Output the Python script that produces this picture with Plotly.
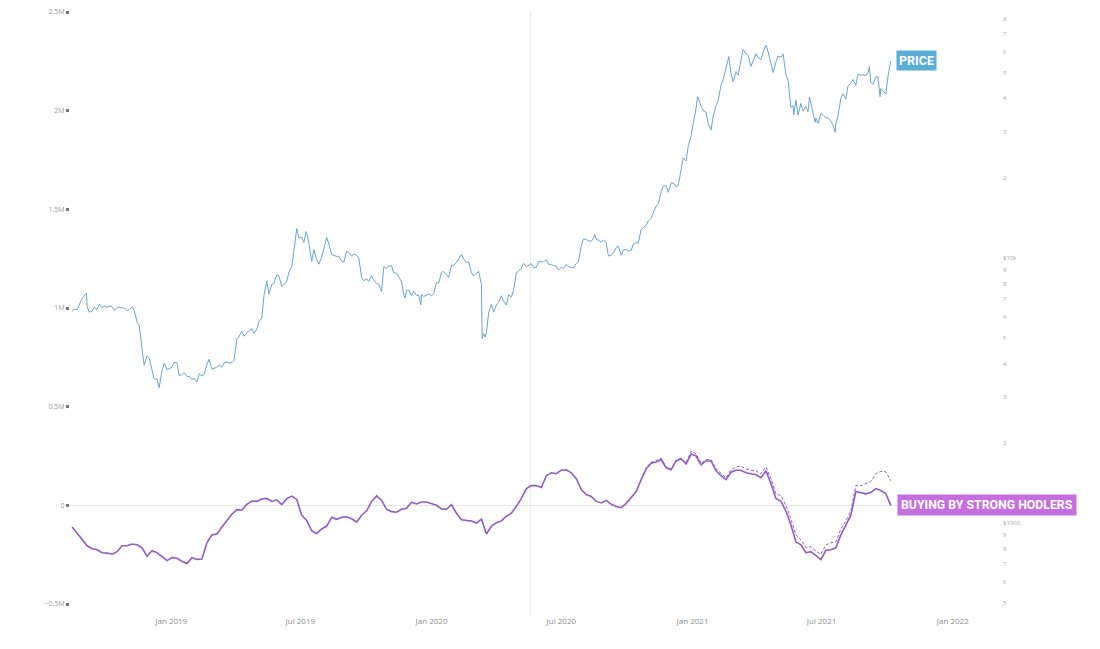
import numpy as np
import pandas as pd
import plotly.graph_objects as go

# ---------------- data ----------------
# Wednesday samples, starting 2018-08-15
week_start = "2018-08-15"
price_weekly = [
    6300, 6380, 7050, 6550, 6300, 6400, 6480, 6500, 6560, 6480,
    6480, 6320, 6530, 5740, 4550, 4270, 3780, 3490, 3750, 3800,
    3880, 4020, 3630, 3570, 3470, 3400, 3590, 3950, 3810, 3870,
    3870, 4050, 4030, 4950, 5300, 5240, 5400, 5400, 5950, 8200,
    7950, 8650, 7800, 8150, 9270, 12900, 11950, 12400, 9700, 9830,
    10080, 11950, 10300, 10130, 9720, 10600, 10150, 10240, 8430, 8340,
    8590, 8000, 7470, 9150, 9340, 8760, 8120, 7530, 7200, 7220,
    7290, 7250, 7200, 8080, 8820, 8660, 9380, 9610, 10330, 9600,
    8780, 8760, 7940, 5230, 6700, 6640, 7200, 6640, 7130, 8800,
    9160, 9270, 9520, 9200, 9670, 9870, 9450, 9310, 9230, 9430,
    9200, 9540, 11100, 11750, 11570, 11760, 11470, 11400, 10240, 10950,
    10240, 10780, 10670, 11430, 12820, 13270, 14130, 15700, 17800, 18730,
    19200, 18560, 21300, 23240, 28950, 36800, 37300, 35500, 30400, 37600,
    44900, 52100, 49700, 50500, 55900, 58900, 52800, 58900, 56000, 63500,
    53800, 54900, 57200, 49200, 37000, 39300, 38300, 37300, 38300, 33700,
    35000, 33800, 32800, 32100, 40000, 39700, 45600, 44800, 48900, 48800,
    46100, 48100, 43600, 41500, 55300,
]

# Saturday samples, starting 2018-08-18
weekend_start = "2018-08-18"
price_weekend = [
    6400, 6700, 7200, 6250, 6520, 6700, 6600, 6580, 6330, 6530,
    6480, 6380, 6350, 5570, 3940, 4200, 3500, 3240, 4000, 3820,
    4040, 3600, 3700, 3580, 3520, 3660, 3640, 4150, 3830, 3950,
    4020, 4010, 4110, 5050, 5070, 5320, 5200, 5750, 7200, 7300,
    8050, 8550, 7950, 8850, 10700, 11900, 11450, 11350, 10750, 9480,
    10800, 11280, 10230, 10150, 9630, 10470, 10360, 9990, 8200, 8150,
    8270, 7950, 9250, 9310, 8800, 8500, 7300, 7570, 7500, 7250,
    7150, 7320, 7350, 8030, 8900, 8440, 9390, 9900, 9900, 9690,
    8550, 8900, 5200, 6200, 6250, 6780, 6880, 7250, 7550, 8900,
    9550, 9380, 9180, 9700, 9670, 9470, 9360, 9010, 9130, 9280,
    9170, 9700, 11800, 11600, 11850, 11680, 11700, 10170, 10440, 11080,
    10730, 10620, 11300, 11360, 13030, 13800, 14820, 15970, 18680, 17700,
    19150, 18800, 23850, 26500, 32000, 40250, 36000, 32100, 34300, 39300,
    47100, 55900, 46200, 48900, 61200, 58100, 55800, 57100, 59800, 60000,
    50100, 57800, 58800, 46800, 37500, 34600, 35800, 35600, 35500, 32200,
    34700, 33800, 31800, 34300, 41600, 44600, 47100, 49300, 49100, 50000,
    45200, 48300, 42700, 48200,
]

# additional daily extremes visible on the chart
price_extra_dates = [
    "2018-09-04", "2019-07-09", "2019-11-25", "2019-12-17", "2020-03-12",
    "2020-03-16", "2020-08-17", "2021-01-08", "2021-02-21", "2021-05-23",
    "2021-06-14", "2021-06-22", "2021-07-20", "2021-09-06", "2021-09-21",
]
price_extra_values = [
    7370, 12570, 7050, 6640, 4970,
    5030, 12250, 40600, 57500, 34700,
    40500, 32500, 29800, 52700, 40600,
]

# buying by strong hodlers (million BTC), weekly from 2018-08-15
hodlers_m = [
    -0.11, -0.14, -0.17, -0.205, -0.22, -0.225, -0.24, -0.242, -0.248, -0.235,
    -0.205, -0.205, -0.196, -0.2, -0.215, -0.258, -0.23, -0.24, -0.26, -0.28,
    -0.265, -0.268, -0.283, -0.295, -0.265, -0.274, -0.272, -0.19, -0.15, -0.145,
    -0.11, -0.075, -0.045, -0.022, -0.025, 0.005, 0.022, 0.02, 0.032, 0.035,
    0.02, 0.028, 0.004, 0.034, 0.047, 0.03, -0.05, -0.077, -0.13, -0.143,
    -0.12, -0.105, -0.06, -0.071, -0.06, -0.058, -0.068, -0.085, -0.05, -0.028,
    0.02, 0.048, 0.025, -0.02, -0.032, -0.035, -0.02, -0.015, 0.016, 0.007,
    0.017, 0.017, 0.008, 0.0, -0.018, -0.02, 0.003, -0.04, -0.073, -0.076,
    -0.08, -0.09, -0.07, -0.145, -0.105, -0.088, -0.079, -0.055, -0.04, -0.005,
    0.035, 0.085, 0.1, 0.1, 0.09, 0.15, 0.165, 0.16, 0.178, 0.18,
    0.165, 0.135, 0.08, 0.055, 0.045, 0.02, 0.012, 0.025, 0.005, -0.006,
    -0.012, 0.01, 0.04, 0.07, 0.13, 0.185, 0.213, 0.22, 0.232, 0.19,
    0.18, 0.225, 0.235, 0.21, 0.26, 0.25, 0.205, 0.225, 0.225, 0.175,
    0.15, 0.13, 0.168, 0.178, 0.178, 0.165, 0.16, 0.155, 0.14, 0.175,
    0.11, 0.035, 0.02, -0.03, -0.1, -0.185, -0.2, -0.24, -0.235, -0.255,
    -0.275, -0.228, -0.225, -0.215, -0.15, -0.1, -0.05, 0.07, 0.065, 0.058,
    0.065, 0.085, 0.075, 0.06, 0.0,
]

# dashed variant (diverges from week 115 onwards)
hodlers_alt_start_week = 115
hodlers_alt_m = [
    0.19, 0.218, 0.225, 0.24, 0.195,
    0.185, 0.23, 0.24, 0.215, 0.275, 0.262, 0.212, 0.232, 0.232, 0.185,
    0.162, 0.14, 0.18, 0.195, 0.198, 0.185, 0.178, 0.175, 0.16, 0.195,
    0.135, 0.06, 0.048, 0.0, -0.07, -0.15, -0.175, -0.215, -0.21, -0.232,
    -0.248, -0.2, -0.19, -0.185, -0.12, -0.08, -0.03, 0.1, 0.1, 0.11,
    0.12, 0.16, 0.172, 0.17, 0.125,
]

left_tickvals = [-0.5e6, 0, 0.5e6, 1e6, 1.5e6, 2e6, 2.5e6]
left_ticktext = ["\u22120.5M", "0", "0.5M", "1M", "1.5M", "2M", "2.5M"]

right_tickvals = [500, 600, 700, 800, 900, 1000, 2000, 3000, 4000, 5000, 6000, 7000,
                  8000, 9000, 10000, 20000, 30000, 40000, 50000, 60000, 70000, 80000]
right_ticktext = ["5", "6", "7", "8", "9", "$1000", "2", "3", "4", "5", "6", "7",
                  "8", "9", "$10k", "2", "3", "4", "5", "6", "7", "8"]

x_tickvals = ["2019-01-01", "2019-07-01", "2020-01-01", "2020-07-01",
              "2021-01-01", "2021-07-01", "2022-01-01"]
x_ticktext = ["Jan 2019", "Jul 2019", "Jan 2020", "Jul 2020",
              "Jan 2021", "Jul 2021", "Jan 2022"]

marker_date = "2020-05-19"

# ---------------- build ----------------
price_df = pd.concat([
    pd.DataFrame({"date": pd.date_range(week_start, periods=len(price_weekly), freq="7D"),
                  "price": price_weekly}),
    pd.DataFrame({"date": pd.date_range(weekend_start, periods=len(price_weekend), freq="7D"),
                  "price": price_weekend}),
    pd.DataFrame({"date": pd.to_datetime(price_extra_dates), "price": price_extra_values}),
]).sort_values("date").drop_duplicates("date")

hod_dates = pd.date_range(week_start, periods=len(hodlers_m), freq="7D")
hod_vals = np.array(hodlers_m) * 1e6
alt_all_dates = pd.date_range(week_start, periods=hodlers_alt_start_week + len(hodlers_alt_m), freq="7D")
alt_dates = list(alt_all_dates[hodlers_alt_start_week - 1:])
alt_vals = [hod_vals[hodlers_alt_start_week - 1]] + list(np.array(hodlers_alt_m) * 1e6)

PRICE_COLOR = "#66a6cf"
HOD_COLOR = "#9559c5"

fig = go.Figure()
fig.add_trace(go.Scatter(x=alt_dates, y=alt_vals, mode="lines",
                         line=dict(color=HOD_COLOR, width=1, dash="3px,2px"), yaxis="y"))
fig.add_trace(go.Scatter(x=hod_dates, y=hod_vals, mode="lines",
                         line=dict(color=HOD_COLOR, width=1.6), yaxis="y"))
fig.add_trace(go.Scatter(x=price_df["date"], y=price_df["price"], mode="lines",
                         line=dict(color=PRICE_COLOR, width=1), yaxis="y2"))

fig.add_shape(type="line", xref="x", yref="paper", x0=marker_date, x1=marker_date,
              y0=-0.02, y1=1, line=dict(color="#ebebeb", width=1), layer="below")

fig.add_annotation(x=price_df["date"].iloc[-1], y=np.log10(price_df["price"].iloc[-1]),
                   xref="x", yref="y2", text="<b>PRICE</b>", showarrow=False,
                   xanchor="left", yanchor="middle", xshift=5, yshift=1,
                   bgcolor="#5aaed8", borderpad=2,
                   font=dict(family="Roboto", size=12.5, color="white"))
fig.add_annotation(x=hod_dates[-1], y=hod_vals[-1], xref="x", yref="y",
                   text="<b>BUYING BY STRONG HODLERS</b>", showarrow=False,
                   xanchor="left", yanchor="middle", xshift=6,
                   bgcolor="#c66ee0", borderpad=3,
                   font=dict(family="Roboto", size=12.3, color="white"))

fig.update_layout(
    width=1100, height=649,
    margin=dict(l=70, r=98, t=7, b=45),
    plot_bgcolor="white", paper_bgcolor="white",
    showlegend=False,
    font=dict(family="Open Sans", color="#8c8c8c"),
    xaxis=dict(type="date", range=["2018-08-12", "2022-03-11"],
               tickvals=x_tickvals, ticktext=x_ticktext,
               showgrid=False, zeroline=False, showline=False, ticks="",
               ticklabelstandoff=11,
               tickfont=dict(size=8, color="#8c8c8c")),
    yaxis=dict(range=[-0.5e6, 2.5e6], tickvals=left_tickvals, ticktext=left_ticktext,
               showgrid=False, zeroline=True, zerolinecolor="#e6e6e6", zerolinewidth=1,
               showline=False, ticks="outside", ticklen=3, tickwidth=3, tickcolor="#777",
               tickfont=dict(size=7, color="#9a9a9a")),
    yaxis2=dict(type="log", overlaying="y", side="right",
                range=[np.log10(495), np.log10(84700)],
                tickvals=right_tickvals, ticktext=right_ticktext,
                showgrid=False, zeroline=False, showline=False, ticks="",
                tickfont=dict(size=6, color="#a8a8a8")),
)

fig.write_html("out.html")
